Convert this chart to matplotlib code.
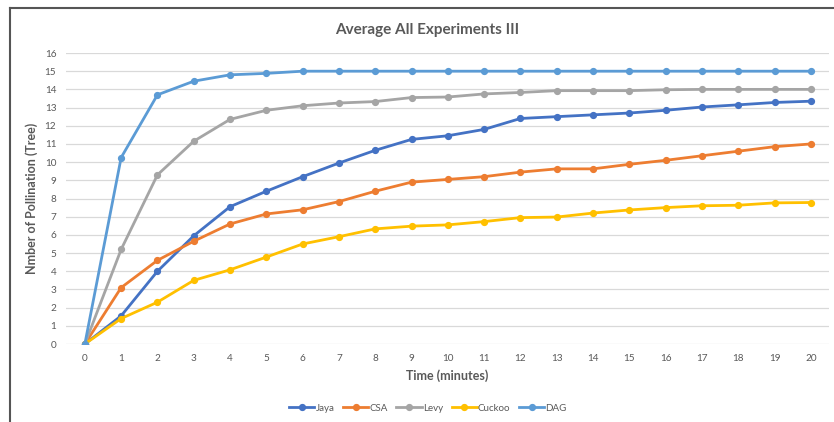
import matplotlib
matplotlib.use("Agg")
import matplotlib.pyplot as plt
from matplotlib.lines import Line2D

plt.rcParams['font.family'] = ['Lato', 'DejaVu Sans']

minutes = list(range(21))
jaya = [0, 1.55, 4.0, 5.95, 7.55, 8.4, 9.2, 9.95, 10.65, 11.25, 11.45, 11.8, 12.4,
        12.5, 12.6, 12.7, 12.85, 13.03, 13.15, 13.28, 13.35]
csa = [0, 3.1, 4.6, 5.65, 6.6, 7.15, 7.38, 7.83, 8.4, 8.9, 9.05, 9.2, 9.45,
       9.63, 9.63, 9.88, 10.1, 10.35, 10.6, 10.85, 11.0]
levy = [0, 5.2, 9.3, 11.15, 12.35, 12.85, 13.1, 13.25, 13.33, 13.55, 13.58, 13.75, 13.83,
        13.93, 13.93, 13.93, 13.98, 14.0, 14.0, 14.0, 14.0]
cuckoo = [0, 1.4, 2.3, 3.5, 4.08, 4.78, 5.5, 5.9, 6.33, 6.48, 6.55, 6.73, 6.95,
          6.98, 7.2, 7.37, 7.5, 7.6, 7.63, 7.76, 7.78]
dag = [0, 10.25, 13.7, 14.45, 14.8, 14.88, 15, 15, 15, 15, 15, 15, 15,
       15, 15, 15, 15, 15, 15, 15, 15]

names = ['Jaya', 'CSA', 'Levy', 'Cuckoo', 'DAG']
colors = ['#4472C4', '#ED7D31', '#A5A5A5', '#FFC000', '#5B9BD5']
series = [jaya, csa, levy, cuckoo, dag]

fig = plt.figure(figsize=(8.34, 4.22), dpi=100)
ax = fig.add_axes([0.0791, 0.1848, 0.9149, 0.6896])

for vals, c, n in zip(series, colors, names):
    ax.plot(minutes, vals, color=c, lw=2.0, marker='o', ms=4.2, label=n)

ax.set_xlim(-0.52, 20.5)
ax.set_ylim(0, 16)
ax.set_xticks(minutes)
ax.set_yticks(range(17))
ax.grid(axis='y', color='#D9D9D9', lw=0.9)
ax.set_axisbelow(True)
for s in ax.spines.values():
    s.set_visible(False)
ax.tick_params(length=0, labelsize=7.2, labelcolor='#595959', pad=7)

ax.set_xlabel('Time (minutes)', fontsize=9, fontweight='bold', color='#595959', labelpad=5)
ax.set_ylabel('Nmber of Pollination (Tree)', fontsize=9, fontweight='bold', color='#595959', labelpad=5)
fig.text(0.512, 0.928, 'Average All Experiments III', ha='center', va='center',
         fontsize=11, fontweight='bold', color='#595959')

leg = fig.legend(loc='center', bbox_to_anchor=(0.513, 0.033), ncol=5, frameon=False,
                 fontsize=7, handlelength=2.6, handletextpad=0.1, columnspacing=0.9)
for t in leg.get_texts():
    t.set_color('#595959')

# outer frame (top and left edges visible in the reference)
fig.add_artist(Line2D([0.012, 1.0], [0.981, 0.981], transform=fig.transFigure, color='#555555', lw=1.5))
fig.add_artist(Line2D([0.012, 0.012], [0.0, 0.981], transform=fig.transFigure, color='#555555', lw=1.5))

fig.savefig('out.png', dpi=100)
